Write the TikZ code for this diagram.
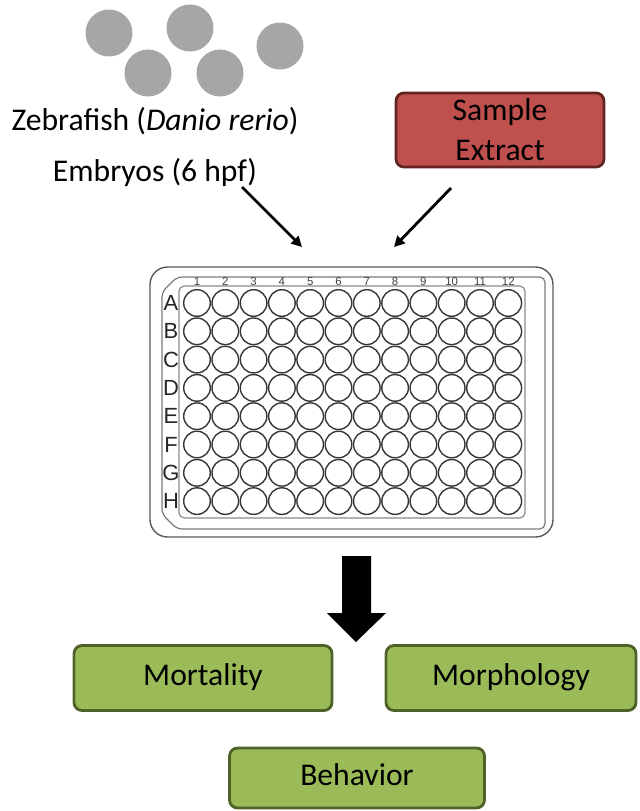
\documentclass[tikz,border=0pt]{standalone}
\usepackage{fontspec}
\setmainfont{Carlito}
\newfontfamily\platefont{Liberation Sans}
\usepackage{tikz}
\usetikzlibrary{arrows.meta}
\definecolor{embryo}{RGB}{166,166,166}
\definecolor{samplefill}{RGB}{192,80,77}
\definecolor{sampleline}{RGB}{99,37,35}
\definecolor{readfill}{RGB}{155,187,89}
\definecolor{readline}{RGB}{79,98,40}
\definecolor{plategray}{RGB}{90,90,90}
\definecolor{wellgray}{RGB}{55,55,55}
\newcommand{\bigfont}{\fontsize{18pt}{22.8pt}\selectfont}

\begin{document}
\begin{tikzpicture}[x=0.02cm, y=-0.02cm,
		every node/.style={font=\bigfont, inner sep=0pt},
		embryo/.style={circle, fill=embryo, minimum size=0.94cm},
		sample/.style={rectangle, rounded corners=0.16cm, draw=sampleline, fill=samplefill,
			line width=1.6pt, align=center, minimum width=4.16cm, minimum height=1.48cm},
		readout/.style={rectangle, rounded corners=0.16cm, draw=readline, fill=readfill,
			line width=1.6pt, minimum height=1.3cm, text height=1.75ex, text depth=0pt},
		well/.style={circle, draw=wellgray, line width=0.8pt, minimum size=0.532cm},
		rowlab/.style={font=\platefont\fontsize{12.5pt}{14pt}\selectfont, text=black!85},
		collab/.style={font=\platefont\fontsize{6.5pt}{7pt}\selectfont, text=black!75},
		feed/.style={line width=1.6pt, -{Triangle[length=6pt, width=6pt]}}
	]
	\useasboundingbox (0,0) rectangle (639,811);

	% embryos
	\node[embryo] (e1) at (109,33) {};
	\node[embryo] (e2) at (190,28) {};
	\node[embryo] (e3) at (280,46) {};
	\node[embryo] (e4) at (148,73) {};
	\node[embryo] (e5) at (220,73) {};
	\node[anchor=base] (zebra) at (155,131) {Zebrafish (\textit{Danio rerio})};
	\node[anchor=base] (stage) at (155,181) {Embryos (6 hpf)};

	\node[sample] (extract) at (500,130) {Sample\\Extract};

	% 96-well plate
	\draw[plategray, line width=0.8pt, rounded corners=10] (150,267) rectangle (553,537);
	\draw[plategray!80, line width=0.7pt, rounded corners=3]
		(162,292) -- (177,277) -- (545,277) -- (545,529) -- (177,529) -- (162,514) -- cycle;
	\draw[plategray!70, line width=0.7pt, rounded corners=3] (179,286) rectangle (525,518);
	\foreach \c in {1,...,12}
		\node[collab] (col-\c) at ({197+28.3*(\c-1)},282) {\c};
	\foreach \r [count=\i] in {A,B,C,D,E,F,G,H} {
		\node[rowlab] (row-\r) at (171,{303+28.3*(\i-1)}) {\r};
		\foreach \c in {1,...,12}
			\node[well] (w-\r-\c) at ({197+28.3*(\c-1)},{303+28.3*(\i-1)}) {};
	}

	\coordinate (embryo-in) at (302,247);
	\coordinate (sample-in) at (394,247);
	\coordinate (stage-out) at (242,187);
	\coordinate (extract-out) at (451,188);
	\draw[feed] (stage-out) -- (embryo-in);
	\draw[feed] (extract-out) -- (sample-in);

	% readouts
	\fill[black] (342,556) -- (371,556) -- (371,613) -- (386,613) -- (356,642)
		-- (327,613) -- (342,613) -- cycle;
	\node[readout, minimum width=5.16cm] (mortality) at (203,678) {Mortality};
	\node[readout, minimum width=5.0cm] (morphology) at (511,678) {Morphology};
	\node[readout, minimum width=5.1cm, minimum height=1.2cm] (behavior) at (357,778) {Behavior};
\end{tikzpicture}
\end{document}
